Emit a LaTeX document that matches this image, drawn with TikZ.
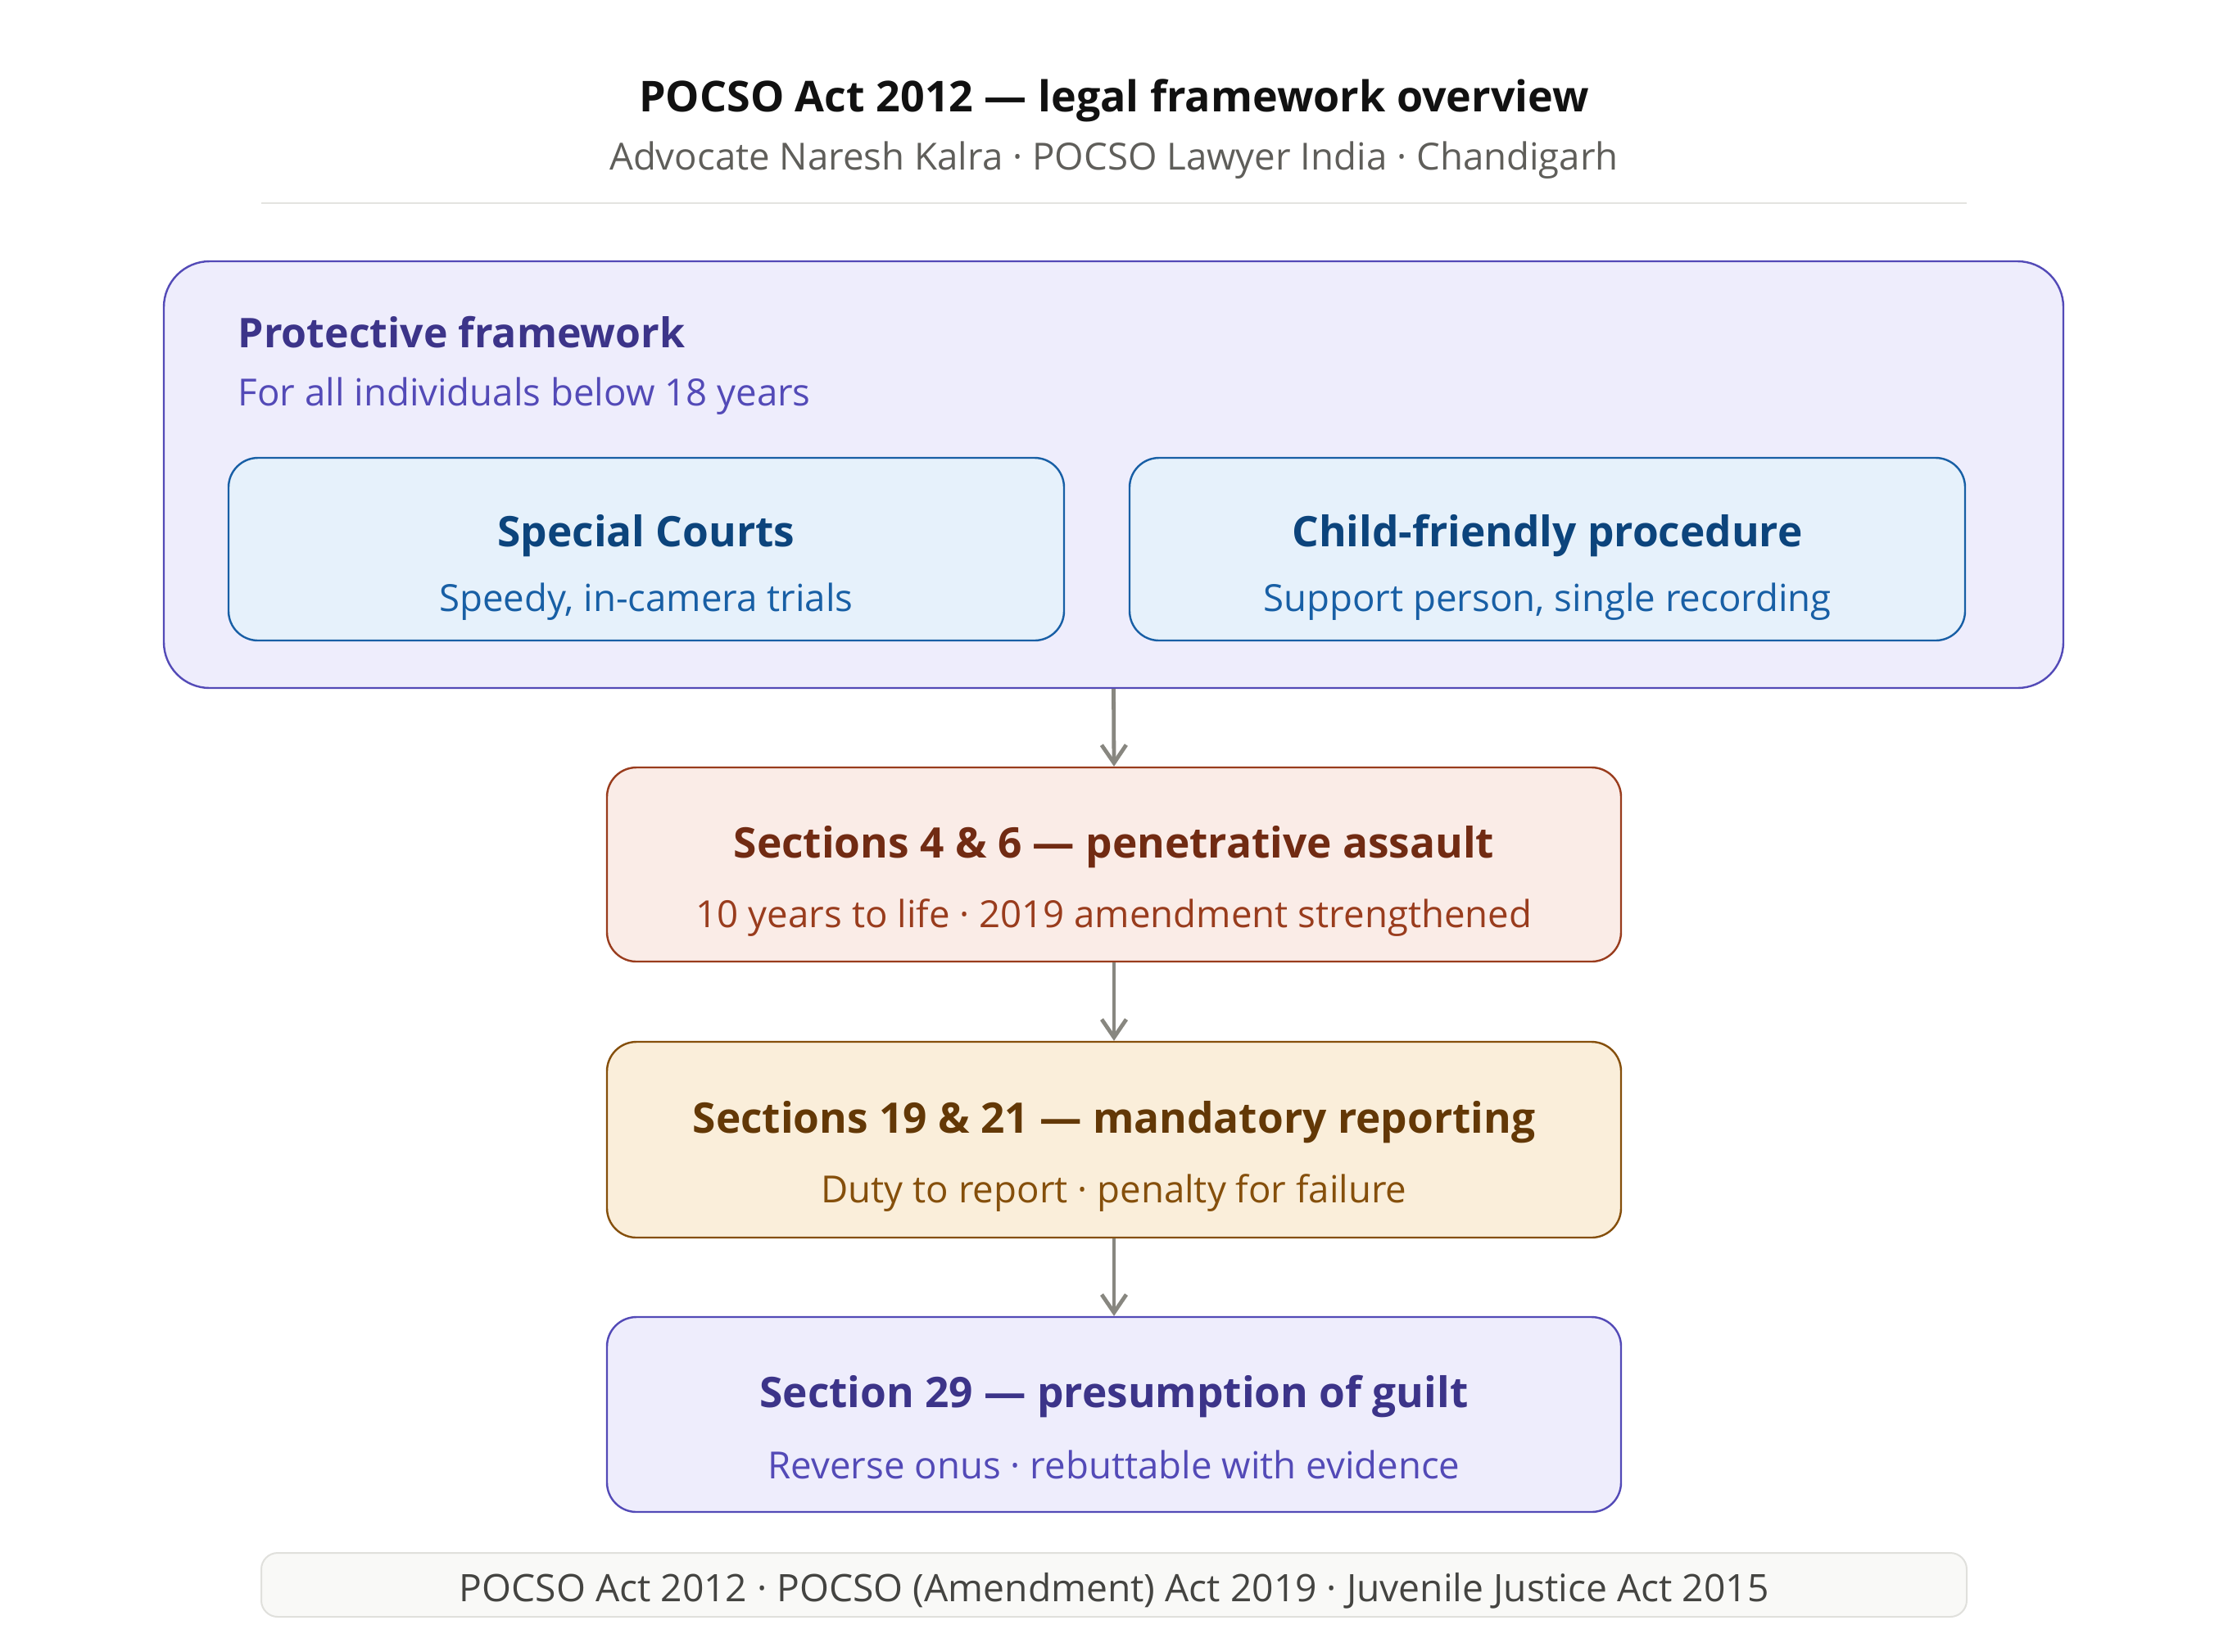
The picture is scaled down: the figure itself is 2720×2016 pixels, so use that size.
\documentclass[tikz,border=0pt]{standalone}
\usepackage{fontspec}
\setmainfont{Open Sans}
\usetikzlibrary{arrows.meta}
\definecolor{pagetitle}{HTML}{111111}
\definecolor{pagesub}{HTML}{5F5E5A}
\definecolor{sepline}{HTML}{E3E3E0}
\definecolor{purfill}{HTML}{EEEDFC}
\definecolor{purdraw}{HTML}{534AB7}
\definecolor{purdark}{HTML}{3C3489}
\definecolor{bluefill}{HTML}{E6F1FB}
\definecolor{bluedraw}{HTML}{185FA5}
\definecolor{bluedark}{HTML}{0C447C}
\definecolor{redfill}{HTML}{FAECE7}
\definecolor{reddraw}{HTML}{993C1D}
\definecolor{reddark}{HTML}{712B13}
\definecolor{ambfill}{HTML}{FAEEDA}
\definecolor{ambdraw}{HTML}{854F0B}
\definecolor{ambdark}{HTML}{633806}
\definecolor{footfill}{HTML}{F9F9F7}
\definecolor{footdraw}{HTML}{E0E0DC}
\definecolor{foottext}{HTML}{444441}
\definecolor{arrowgray}{HTML}{888780}
\begin{document}
\begin{tikzpicture}[x=0.25pt,y=-0.25pt,
  panel/.style={draw, line width=0.6pt, rounded corners=9pt, inner sep=0pt},
  headtext/.style={anchor=base, inner sep=0pt, font=\fontsize{12.85}{15}\selectfont\bfseries},
  subtext/.style={anchor=base, inner sep=0pt, font=\fontsize{11.4}{14}\selectfont},
  flow/.style={draw=arrowgray, line width=1.2pt, -{Straight Barb[length=5.5pt,width=7.5pt,line width=1.2pt]}}
]
\useasboundingbox[fill=white] (0,0) rectangle (2720,2016);

% header
\node[anchor=base, inner sep=0pt, text=pagetitle, font=\fontsize{13}{16}\selectfont\bfseries] (title) at (1360,136) {POCSO Act 2012 — legal framework overview};
\node[anchor=base, inner sep=0pt, text=pagesub, font=\fontsize{11.4}{14}\selectfont] (subtitle) at (1360,207) {Advocate Naresh Kalra · POCSO Lawyer India · Chandigarh};
\coordinate (sepL) at (319,248);
\coordinate (sepR) at (2401,248);
\draw[sepline, line width=0.5pt] (sepL) -- (sepR);

% outer protective framework
\node[panel, draw=purdraw, fill=purfill, rounded corners=14pt, minimum width=579.75pt, minimum height=130.25pt] (outer) at (1359.5,579.5) {};
\node[headtext, anchor=base west, text=purdark, font=\fontsize{12.5}{15}\selectfont\bfseries] (outerhead) at (290,424) {Protective framework};
\node[subtext, anchor=base west, text=purdraw] (outersub) at (290,495) {For all individuals below 18 years};

% inner boxes
\node[panel, draw=bluedraw, fill=bluefill, minimum width=255pt, minimum height=55.75pt] (courts) at (789,670.5) {};
\node[headtext, text=bluedark] (courtshead) at (789,667) {Special Courts};
\node[subtext, text=bluedraw] (courtssub) at (789,746) {Speedy, in-camera trials};

\node[panel, draw=bluedraw, fill=bluefill, minimum width=255pt, minimum height=55.75pt] (child) at (1889,670.5) {};
\node[headtext, text=bluedark] (childhead) at (1889,667) {Child-friendly procedure};
\node[subtext, text=bluedraw] (childsub) at (1889,746) {Support person, single recording};

% section boxes
\node[panel, draw=reddraw, fill=redfill, minimum width=309.5pt, minimum height=59.25pt] (s4) at (1360,1055.5) {};
\node[headtext, text=reddark] (s4head) at (1360,1047) {Sections 4 \& 6 — penetrative assault};
\node[subtext, text=reddraw] (s4sub) at (1360,1132) {10 years to life · 2019 amendment strengthened};

\node[panel, draw=ambdraw, fill=ambfill, minimum width=309.5pt, minimum height=59.75pt] (s19) at (1360,1391.5) {};
\node[headtext, text=ambdark] (s19head) at (1360,1383) {Sections 19 \& 21 — mandatory reporting};
\node[subtext, text=ambdraw] (s19sub) at (1360,1468) {Duty to report · penalty for failure};

\node[panel, draw=purdraw, fill=purfill, minimum width=309.5pt, minimum height=59.5pt] (s29) at (1360,1727) {};
\node[headtext, text=purdark] (s29head) at (1360,1718) {Section 29 — presumption of guilt};
\node[subtext, text=purdraw] (s29sub) at (1360,1805) {Reverse onus · rebuttable with evidence};

% arrows
\draw[flow] (outer.south) -- (s4.north);
\draw[flow] (s4.south) -- (s19.north);
\draw[flow] (s19.south) -- (s29.north);

% footer
\node[panel, draw=footdraw, fill=footfill, rounded corners=5pt, line width=0.5pt, minimum width=520.5pt, minimum height=19.5pt] (footer) at (1360,1935) {};
\node[subtext, text=foottext, font=\fontsize{11.55}{14}\selectfont] (foottxt) at (1360,1955) {POCSO Act 2012 · POCSO (Amendment) Act 2019 · Juvenile Justice Act 2015};
\end{tikzpicture}
\end{document}
